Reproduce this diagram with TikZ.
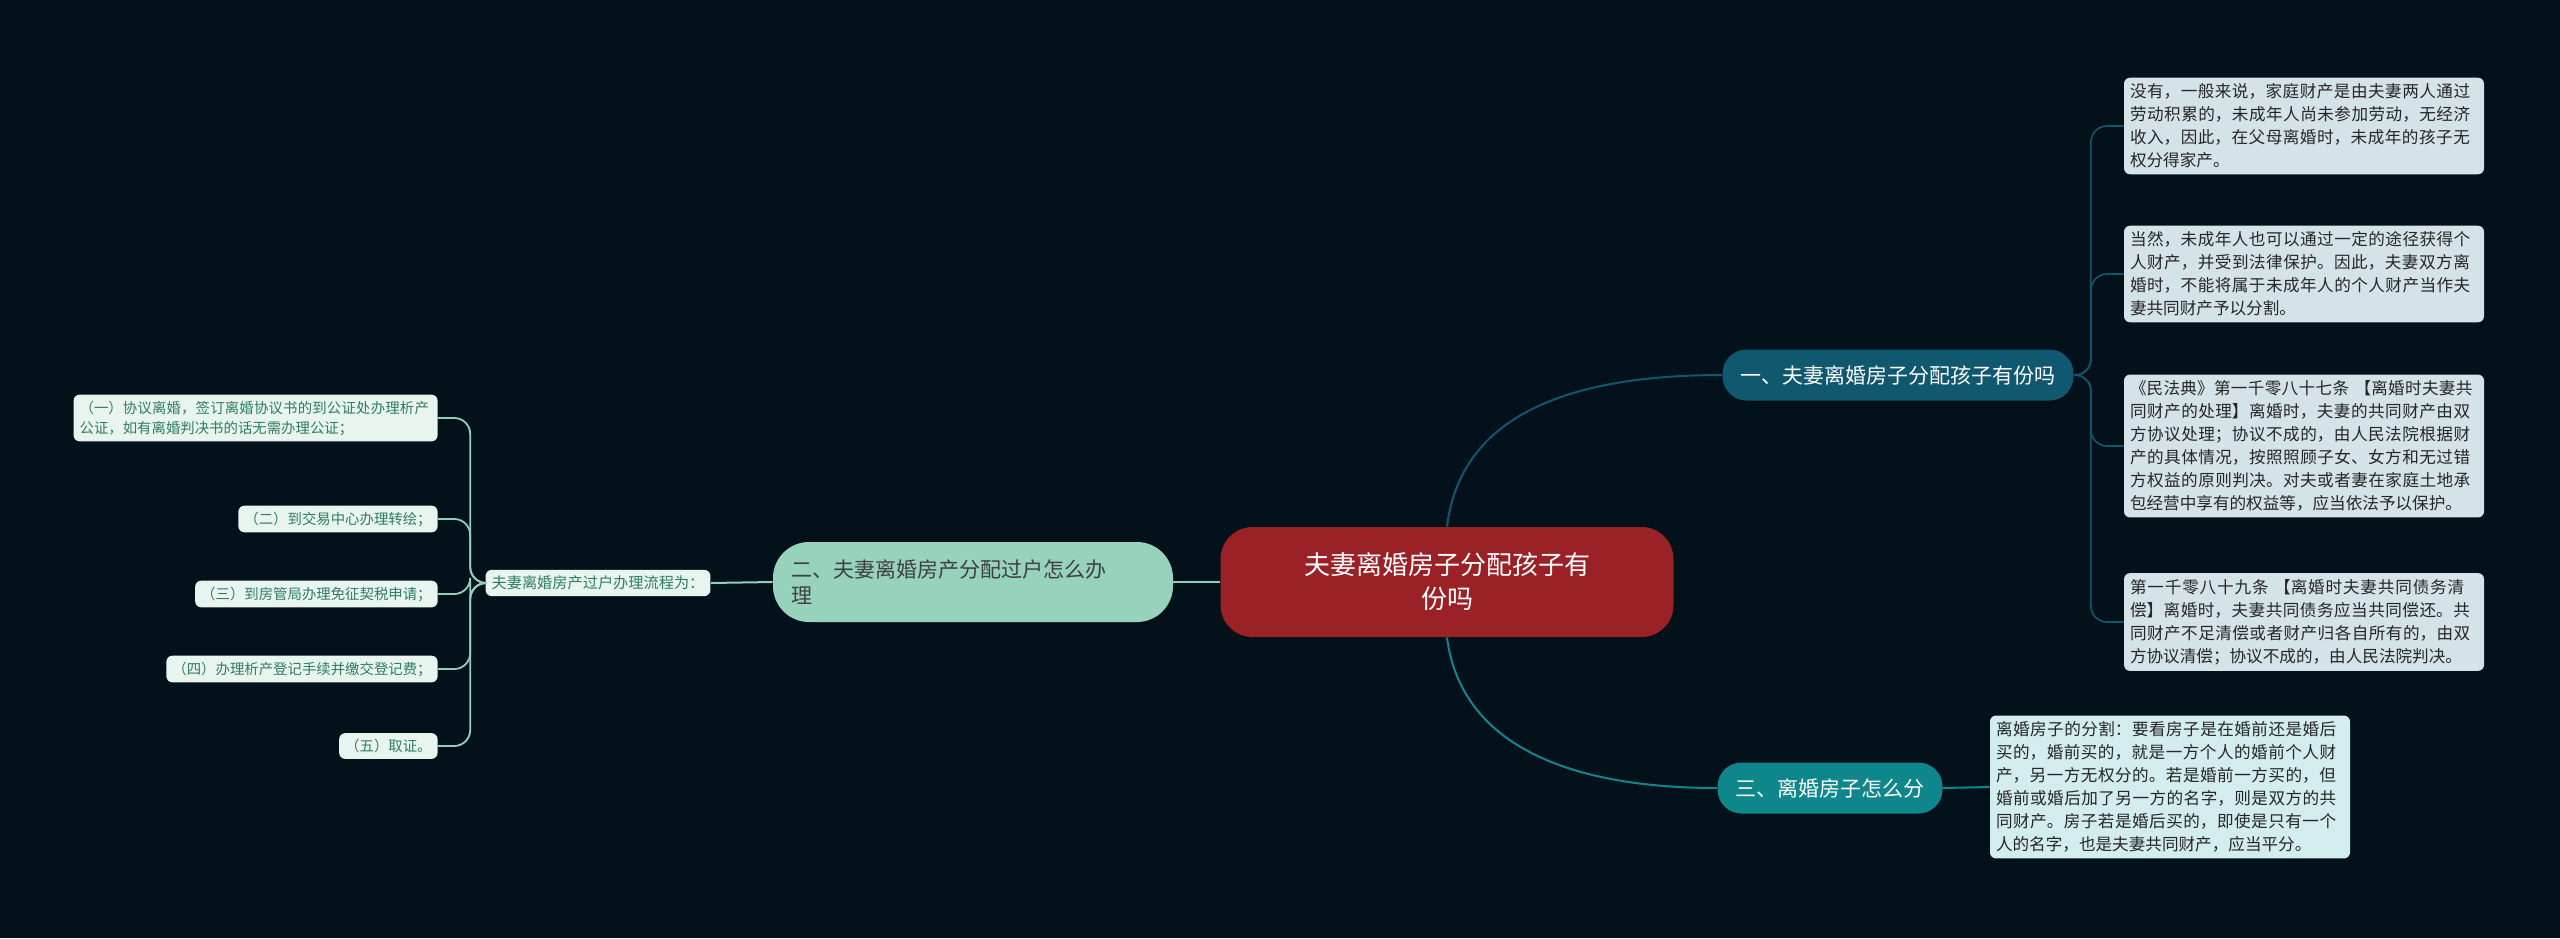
\documentclass[tikz,border=0pt]{standalone}
\usepackage{fontspec}
\setmainfont{Noto Sans CJK SC}
\XeTeXlinebreaklocale "zh"
\XeTeXlinebreakskip = 0pt plus 1pt
\usetikzlibrary{positioning}
\definecolor{bgcol}{HTML}{03111A}
\definecolor{rootcol}{HTML}{9A2226}
\definecolor{onecol}{HTML}{0F5870}
\definecolor{threecol}{HTML}{0E878C}
\definecolor{twocol}{HTML}{96D2BC}
\definecolor{mintcol}{HTML}{E8F5EF}
\definecolor{mintline}{HTML}{8FD0BA}
\definecolor{mintext}{HTML}{2F7D62}
\definecolor{greycol}{HTML}{D3E3E8}
\definecolor{bluecol}{HTML}{D3ECEE}
\begin{document}
\begin{tikzpicture}[x=0.5pt,y=-0.5pt,every node/.append style={align=left,font=\fontsize{8.3pt}{11.5pt}\selectfont},
  root/.style={fill=rootcol,text=white,rounded corners=16pt,minimum width=226.5pt,minimum height=55pt,align=center,font=\fontsize{13pt}{17pt}\selectfont},
  branch/.style={text=white,rounded corners=12pt,minimum height=25.5pt,inner xsep=9pt,font=\fontsize{10.5pt}{13pt}\selectfont},
  leafr/.style={fill=greycol,text=black!85,rounded corners=3pt,text width=174pt,inner sep=3pt},
  leafl/.style={fill=mintcol,text=mintext,rounded corners=3pt,inner sep=3pt,align=right,font=\fontsize{7.2pt}{10pt}\selectfont},
  linkone/.style={draw=onecol,line width=1pt},
  linkthree/.style={draw=threecol,line width=1pt},
  linktwo/.style={draw=mintline,line width=1pt}]
  \fill[bgcol] (0,0) rectangle (2560,938);
  \useasboundingbox (0,0) rectangle (2560,938);
  % centre and branches
  \node [root] (root) at (1447,582) {夫妻离婚房子分配孩子有\\份吗};
  \node [branch, fill=onecol] (one) at (1898,375) {一、夫妻离婚房子分配孩子有份吗};
  \node [branch, fill=threecol] (three) at (1830,788) {三、离婚房子怎么分};
  \node [branch, fill=twocol, text=black!75, rounded corners=18pt, text width=182pt, minimum height=40pt] (two) at (973,582) {二、夫妻离婚房产分配过户怎么办\\理};
  \node [leafl, align=left, font=\fontsize{7.6pt}{10pt}\selectfont] (flow) at (598,583) {夫妻离婚房产过户办理流程为：};
  % right leaves
  \node [leafr] (r1) at (2304,126) {没有，一般来说，家庭财产是由夫妻两人通过劳动积累的，未成年人尚未参加劳动，无经济收入，因此，在父母离婚时，未成年的孩子无权分得家产。};
  \node [leafr] (r2) at (2304,274) {当然，未成年人也可以通过一定的途径获得个人财产，并受到法律保护。因此，夫妻双方离婚时，不能将属于未成年人的个人财产当作夫妻共同财产予以分割。};
  \node [leafr] (r3) at (2304,446) {《民法典》第一千零八十七条 【离婚时夫妻共同财产的处理】离婚时，夫妻的共同财产由双方协议处理；协议不成的，由人民法院根据财产的具体情况，按照照顾子女、女方和无过错方权益的原则判决。对夫或者妻在家庭土地承包经营中享有的权益等，应当依法予以保护。};
  \node [leafr] (r4) at (2304,622) {第一千零八十九条 【离婚时夫妻共同债务清偿】离婚时，夫妻共同债务应当共同偿还。共同财产不足清偿或者财产归各自所有的，由双方协议清偿；协议不成的，由人民法院判决。};
  \node [leafr, fill=bluecol] (r5) at (2170,787) {离婚房子的分割：要看房子是在婚前还是婚后买的，婚前买的，就是一方个人的婚前个人财产，另一方无权分的。若是婚前一方买的，但婚前或婚后加了另一方的名字，则是双方的共同财产。房子若是婚后买的，即使是只有一个人的名字，也是夫妻共同财产，应当平分。};
  % left leaves
  \node [leafl, text width=176pt, align=left, anchor=east] (l1) at (438,418) {（一）协议离婚，签订离婚协议书的到公证处办理析产公证，如有离婚判决书的话无需办理公证；};
  \node [leafl, anchor=east] (l2) at (438,519) {（二）到交易中心办理转绘；};
  \node [leafl, anchor=east] (l3) at (438,594) {（三）到房管局办理免征契税申请；};
  \node [leafl, anchor=east] (l4) at (438,669) {（四）办理析产登记手续并缴交登记费；};
  \node [leafl, anchor=east] (l5) at (438,746) {（五）取证。};
  % connectors
  \draw [linkone] (root.north) .. controls (1460,420) and (1560,375) .. (one.west);
  \draw [linkthree] (root.south) .. controls (1460,740) and (1560,788) .. (three.west);
  \draw [linktwo] (root.west) -- (two.east);
  \draw [linktwo] (two.west) -- (flow.east);
  \foreach \r in {r1,r2,r3,r4}
    \draw [linkone, line width=0.8pt, rounded corners=8pt] (one.east) -- ++(17,0) |- (\r.west);
  \draw [linkthree] (three.east) -- (r5.west);
  \foreach \l in {l1,l2,l3,l4,l5}
    \draw [linktwo, line width=0.9pt, rounded corners=8pt] (flow.west) -- ++(-15,0) |- (\l.east);
\end{tikzpicture}
\end{document}
